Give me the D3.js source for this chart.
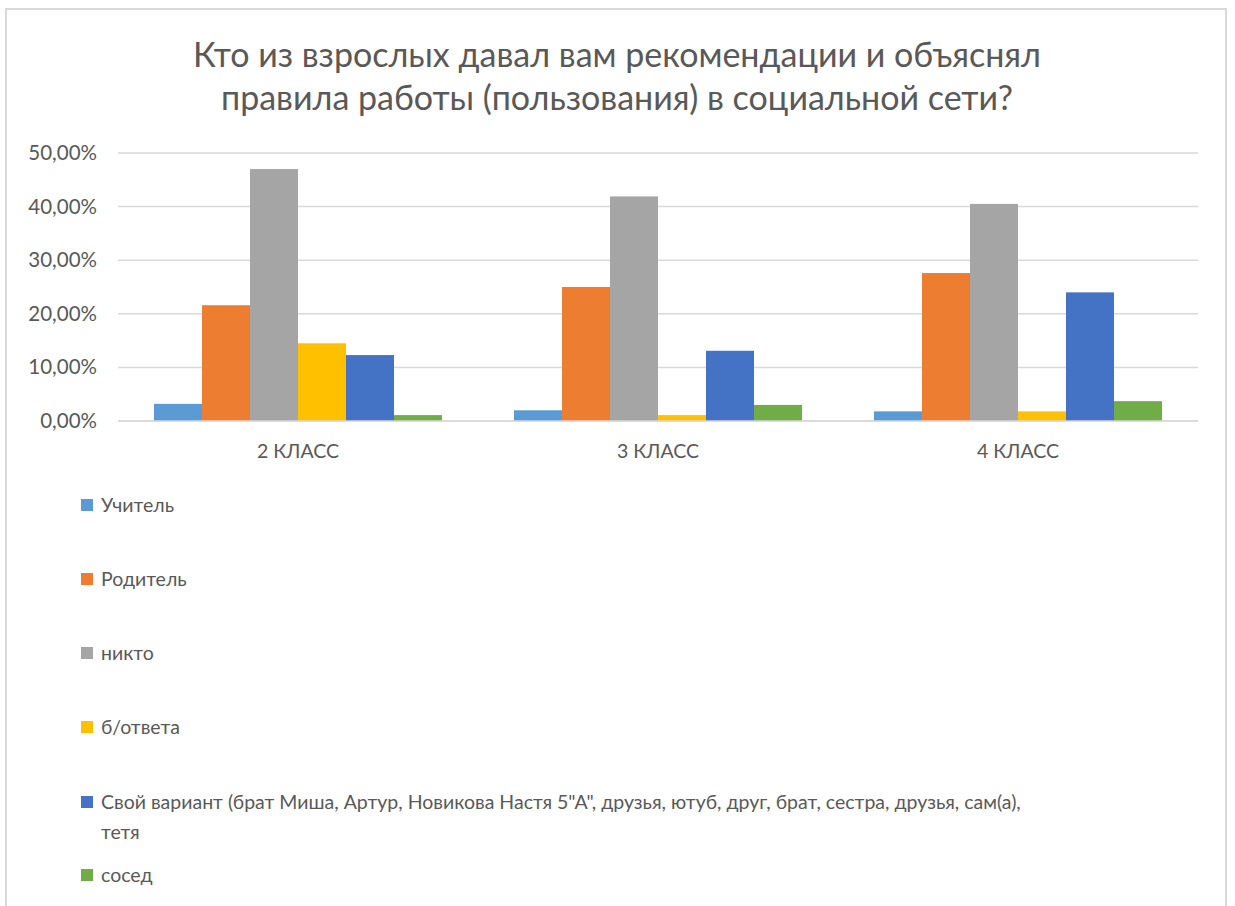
<!DOCTYPE html>
<html>
<head>
<meta charset="utf-8">
<script src="https://cdn.jsdelivr.net/npm/d3@7"></script>
<style>
  body { margin: 0; background: #fff; }
  text { font-family: Lato, 'Open Sans', sans-serif; fill: #595959; }
</style>
</head>
<body>
<script>
let classes = ['2 КЛАСС', '3 КЛАСС', '4 КЛАСС'];
let seriesNames = ['Учитель', 'Родитель', 'никто', 'б/ответа',
    'Свой вариант (брат Миша, Артур, Новикова Настя 5"А", друзья, ютуб, друг, брат, сестра, друзья, сам(а), тетя',
    'сосед'];
let seriesColors = ['#5B9BD5', '#ED7D31', '#A5A5A5', '#FFC000', '#4472C4', '#70AD47'];
// values per series, one per class (in %)
let teacher = [3.2, 2.0, 1.8];
let parent = [21.6, 25.0, 27.6];
let nobody = [47.0, 41.9, 40.5];
let noAnswer = [14.5, 1.1, 1.8];
let own = [12.3, 13.1, 24.0];
let neighbour = [1.1, 3.0, 3.7];
let yTicks = [0, 10, 20, 30, 40, 50];
let titleLines = ['Кто из взрослых давал вам рекомендации и объяснял',
    'правила работы (пользования) в социальной сети?'];

let allValues = [teacher, parent, nobody, noAnswer, own, neighbour];

let width = 1235, height = 906;
let margin = {top: 153, right: 37, bottom: 485, left: 118};

let svg = d3.select('body').append('svg')
    .attr('width', width)
    .attr('height', height);

// chart frame
svg.append('rect')
    .attr('x', 6).attr('y', 9)
    .attr('width', 1220).attr('height', 940)
    .attr('fill', '#fff')
    .attr('stroke', '#d9d9d9')
    .attr('stroke-width', 2);

// title
svg.append('g').selectAll('text').data(titleLines).enter().append('text')
    .attr('x', 617)
    .attr('y', (d, i) => 67 + i * 43)
    .attr('text-anchor', 'middle')
    .style('font-size', '34px')
    .text(d => d);

let x0 = d3.scaleBand()
    .domain(classes)
    .range([margin.left, width - margin.right])
    .paddingInner(0.2)
    .paddingOuter(0.1);

let x1 = d3.scaleBand()
    .domain(d3.range(seriesNames.length))
    .range([0, x0.bandwidth()]);

let y = d3.scaleLinear()
    .domain([0, 50])
    .range([height - margin.bottom, margin.top]);

let g = svg.append('g');

// gridlines
g.selectAll('.grid').data(yTicks).enter().append('line')
    .attr('class', 'grid')
    .attr('x1', margin.left)
    .attr('x2', width - margin.right)
    .attr('y1', d => y(d))
    .attr('y2', d => y(d))
    .attr('stroke', '#d9d9d9')
    .attr('stroke-width', 1.5);

// y axis labels
let yAxis = d3.axisLeft(y)
    .tickValues(yTicks)
    .tickSize(0)
    .tickPadding(21)
    .tickFormat(d => d3.format('.2f')(d).replace('.', ',') + '%');
let yg = svg.append('g')
    .attr('transform', `translate(${margin.left},0)`)
    .call(yAxis);
yg.select('.domain').remove();
yg.selectAll('text').style('font-size', '20.5px').style('font-family', 'Lato, sans-serif').attr('fill', '#595959');

// bars
let groups = g.selectAll('.cls').data(classes).enter().append('g')
    .attr('class', 'cls')
    .attr('transform', d => `translate(${x0(d)},0)`);

groups.selectAll('rect')
    .data((d, ci) => allValues.map((vals, si) => ({si, v: vals[ci]})))
    .enter().append('rect')
    .attr('x', d => x1(d.si))
    .attr('width', x1.bandwidth())
    .attr('y', d => y(d.v))
    .attr('height', d => y(0) - y(d.v))
    .attr('fill', d => seriesColors[d.si]);

// baseline
g.append('line')
    .attr('x1', margin.left).attr('x2', width - margin.right)
    .attr('y1', y(0)).attr('y2', y(0))
    .attr('stroke', '#d9d9d9').attr('stroke-width', 1.5);

// x axis labels
let xAxis = d3.axisBottom(x0).tickSize(0).tickPadding(23);
let xg = svg.append('g')
    .attr('transform', `translate(0,${y(0)})`)
    .call(xAxis);
xg.select('.domain').remove();
xg.selectAll('text').style('font-size', '19.5px').style('font-family', 'Lato, sans-serif').attr('fill', '#595959');

// legend
let legend = svg.append('g');
let legendY = [505, 579, 653, 727, 802, 875];
let items = legend.selectAll('g').data(seriesNames).enter().append('g')
    .attr('transform', (d, i) => `translate(81,${legendY[i]})`);
items.append('rect')
    .attr('x', 0).attr('y', -6)
    .attr('width', 12).attr('height', 12)
    .attr('fill', (d, i) => seriesColors[i]);
items.append('text')
    .attr('x', 20)
    .attr('dy', '0.35em')
    .style('font-size', '19.5px')
    .each(function(d) {
        let t = d3.select(this);
        let idx = d.lastIndexOf(' тетя');
        if (idx > 0) {
            t.append('tspan').attr('x', 20).text(d.slice(0, idx));
            t.append('tspan').attr('x', 20).attr('dy', 30).text(d.slice(idx + 1));
        } else {
            t.text(d);
        }
    });
</script>
</body>
</html>
